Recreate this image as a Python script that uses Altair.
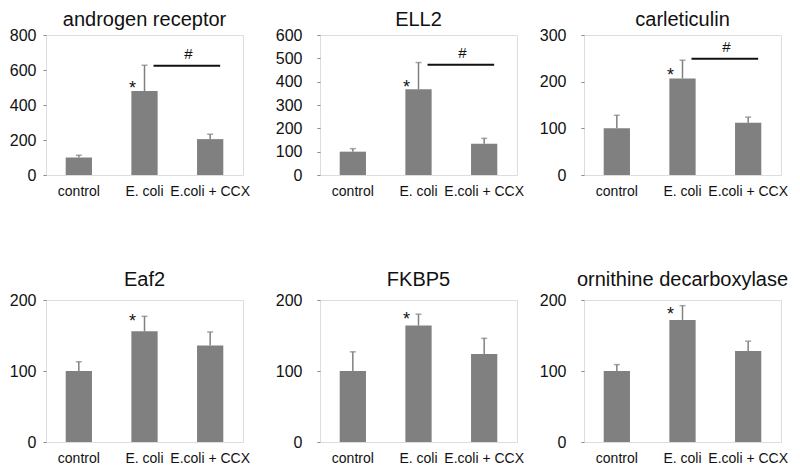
import altair as alt
import pandas as pd

FONT = "Liberation Sans"

groups = ["control", "E. coli", "E.coli + CCX"]
titles = ["androgen receptor", "ELL2", "carleticulin",
          "Eaf2", "FKBP5", "ornithine decarboxylase"]
means = [[100, 480, 205], [100, 367, 134], [100, 207, 112],
         [100, 156, 136], [100, 164, 124], [100, 172, 128]]
errors = [[13, 147, 28], [13, 115, 23], [28, 39, 12],
          [13, 21, 19], [27, 16, 22], [9, 20, 14]]
y_max = [800, 600, 300, 200, 200, 200]
y_step = [200, 100, 100, 100, 100, 100]
star_y = [514, 390, 221, 174, 178, 184]
bracket_y = [625, 473, 249, None, None, None]

BAR = "#808080"
W = 197


def panel(i, h, title_offset, label_pad):
    df = pd.DataFrame({
        "group": groups,
        "mean": means[i],
        "top": [m + e for m, e in zip(means[i], errors[i])],
    })
    xs = alt.Scale(domain=groups, paddingInner=0.6, paddingOuter=0.3)
    ys = alt.Scale(domain=[0, y_max[i]], nice=False, zero=True)
    xa = alt.Axis(title=None, labelAngle=0, labelFontSize=14,
                  labelFont=FONT, labelColor="#111", ticks=False,
                  domain=False, labelPadding=9)
    ya = alt.Axis(title=None, grid=False, domain=False,
                  values=list(range(0, y_max[i] + 1, y_step[i])),
                  tickSize=3, tickColor="#888", labelFontSize=16,
                  labelFont=FONT, labelColor="#111", labelPadding=label_pad)
    xe = alt.X("group:N", sort=groups, scale=xs, axis=xa)

    def ye(f):
        return alt.Y(f, scale=ys, axis=ya)

    bars = alt.Chart(df).mark_bar(color=BAR).encode(x=xe, y=ye("mean:Q"))
    err = alt.Chart(df).mark_rule(color=BAR, strokeWidth=1.5).encode(
        x=xe, y=ye("mean:Q"), y2="top:Q")
    caps = alt.Chart(df).mark_tick(orient="horizontal", size=6, thickness=1.5,
                                   color=BAR).encode(x=xe, y=ye("top:Q"))
    sdf = pd.DataFrame({"group": [groups[1]], "v": [star_y[i]]})
    star = alt.Chart(sdf).mark_text(text="*", fontSize=18, font=FONT, color="#111",
                                    dx=-12, dy=9, baseline="alphabetic").encode(
        x=xe, y=ye("v:Q"))
    layers = [bars, err, caps, star]
    if bracket_y[i] is not None:
        bdf = pd.DataFrame({"group": [groups[1]], "group2": [groups[2]],
                            "v": [bracket_y[i]]})
        line = alt.Chart(bdf).mark_rule(color="#111", strokeWidth=2,
                                        xOffset=9, x2Offset=10).encode(
            x=xe, x2="group2", y=ye("v:Q"))
        hsh = alt.Chart(bdf).mark_text(text="#", fontSize=15, font=FONT, color="#111",
                                       dx=44, dy=-4, baseline="bottom").encode(
            x=xe, y=ye("v:Q"))
        layers += [line, hsh]
    return alt.layer(*layers).properties(
        width=W, height=h,
        title=alt.TitleParams(titles[i], fontSize=20, font=FONT, fontWeight="normal",
                              color="#111", anchor="middle", frame="group",
                              baseline="alphabetic", offset=title_offset),
    )


def row(ps):
    inner = alt.HConcatChart(hconcat=[ps[0], ps[1]], spacing=23)
    return alt.HConcatChart(hconcat=[inner, ps[2]], spacing=13)


row1 = row([panel(0, 140, -19, 7), panel(1, 140, -19, 15), panel(2, 140, -19, 15)])
row2 = row([panel(3, 142, -14, 7), panel(4, 142, -14, 15), panel(5, 142, -14, 15)])

chart = alt.VConcatChart(vconcat=[row1, row2], spacing=70).properties(
    padding={"left": 0, "top": 1, "right": 0, "bottom": 0}
).configure_view(stroke="#888", strokeWidth=1).configure(background="white")

chart.save("out.html", embed_options={"renderer": "svg", "actions": False})
